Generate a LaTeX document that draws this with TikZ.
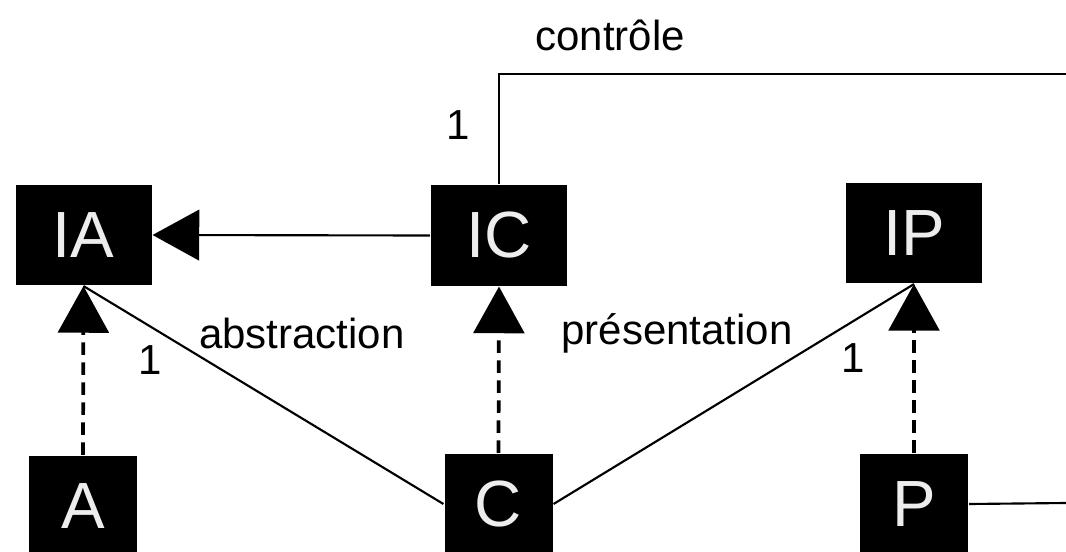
\documentclass[tikz,border=0pt]{standalone}
\usepackage{fontspec}
\setmainfont{Liberation Sans}
\usetikzlibrary{arrows.meta}

\begin{document}
\begin{tikzpicture}[x=0.75pt, y=-0.75pt, line width=1.6pt,
	>={Triangle[length=35pt, width=38pt]},
	classbox/.style={fill=black, text=white!93!black, inner sep=0pt,
		minimum height=75pt, font=\fontsize{49}{52}\selectfont},
	bigbox/.style={classbox, minimum width=102pt},
	smallbox/.style={classbox, minimum width=81pt},
	lbl/.style={font=\fontsize{31.5}{34}\selectfont},
	realize/.style={->, line width=2.8pt, dash pattern=on 9.5pt off 5.5pt}]
	% --- 1. SETUP ---
	\useasboundingbox (0,0) rectangle (1066,552);
	\coordinate (ctrlend) at (1066, 74);
	\coordinate (presend) at (1066, 503);
	
	% --- 2. INTERFACES (top row) ---
	\node[bigbox] (IA) at (83.5, 235) {IA};
	\node[bigbox] (IC) at (499, 235.5) {IC};
	\node[bigbox] (IP) at (914, 233) {IP};
	
	% --- 3. CLASSES (bottom row) ---
	\node[smallbox] (A) at (83, 506) {A};
	\node[smallbox] (C) at (498.5, 504) {C};
	\node[smallbox] (P) at (914, 504) {P};
	
	% --- 4. CONNECTORS ---
	% IC inherits from IA
	\draw[->] (IC.west) -- (IA.east);
	
	% Realisations (dashed)
	\draw[realize] (A.north) -- (IA.south);
	\draw[realize] (C.north) -- (IC.south);
	\draw[realize] (P.north) -- (IP.south);
	
	% Associations
	\draw (C.west) -- (IA.south);
	\draw (C.east) -- (IP.south);
	\draw (IC.north) |- (ctrlend);
	\draw (P.east) -- (presend);
	
	% --- 5. LABELS ---
	\node[lbl] (ctrl) at (610, 35) {contrôle};
	\node[lbl] (ctrlone) at (458, 125) {1};
	\node[lbl] (abs) at (302, 333) {abstraction};
	\node[lbl] (absone) at (150, 360) {1};
	\node[lbl] (pres) at (677, 333) {présentation};
	\node[lbl] (presone) at (853, 358) {1};
\end{tikzpicture}
\end{document}
